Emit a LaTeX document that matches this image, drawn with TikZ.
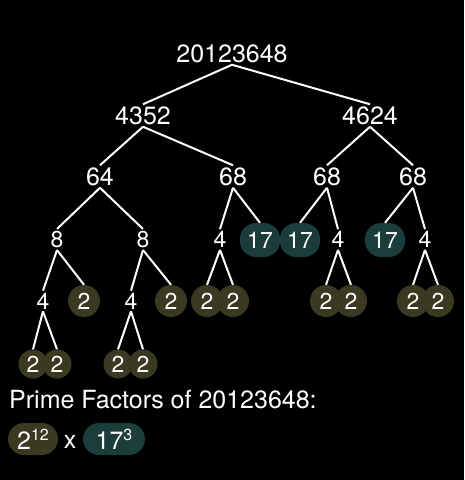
\documentclass[tikz,border=0pt]{standalone}
\usepackage{fontspec}
\setmainfont{TeX Gyre Heros}
\definecolor{twoolive}{RGB}{58,57,33}
\definecolor{seventeenteal}{RGB}{27,62,59}
\newcommand{\treefont}{\fontsize{25}{29}\selectfont}
\newcommand{\leaffont}{\fontsize{23}{27}\selectfont}
\newcommand{\supfont}{\fontsize{16}{18}\selectfont}

\begin{document}
\begin{tikzpicture}[
    x=1pt, y=-1pt,
    every node/.style={text=white, font=\treefont},
    num/.style={inner sep=2pt},
    small/.style={inner sep=2pt, font=\leaffont},
    two/.style={circle, fill=twoolive, inner sep=0pt, minimum size=#1, font=\leaffont},
    two/.default=32pt,
    seventeen/.style={rectangle, rounded corners=16pt, fill=seventeenteal,
        minimum width=40pt, minimum height=34pt, inner sep=0pt, font=\leaffont},
    branch/.style={draw=white, line width=2pt}
]

    % background and margins
    \fill[black] (0,0) rectangle (464,480);

    % ==========================
    % TREE: levels 1 to 3
    % ==========================
    \node[num] (root) at (232,53.5) {20123648};

    \foreach \n/\x/\t in {n4352/143/4352, n4624/370/4624}
        \node[num] (\n) at (\x,115.5) {\t};

    \foreach \n/\x/\t in {n64/100/64, n68a/233/68, n68b/327/68, n68c/413/68}
        \node[num] (\n) at (\x,176.5) {\t};

    % ==========================
    % TREE: level 4
    % ==========================
    \foreach \n/\x/\t in {n8a/57/8, n8b/143/8, n4a/220/4, n4b/338/4, n4c/425/4}
        \node[small] (\n) at (\x,239.5) {\t};
    \foreach \n/\x in {p17a/260, p17b/300, p17c/385}
        \node[seventeen] (\n) at (\x,240) {17};

    % ==========================
    % TREE: levels 5 and 6
    % ==========================
    \foreach \n/\x in {n4d/43, n4e/131}
        \node[small] (\n) at (\x,301) {4};
    \foreach \n/\x in {p2a/84, p2b/171, p2c/207, p2d/233, p2e/326, p2f/351, p2g/413, p2h/438}
        \node[two] (\n) at (\x,301) {2};
    \foreach \n/\x in {p2i/33, p2j/57, p2k/118, p2l/143}
        \node[two=29pt] (\n) at (\x,364) {2};

    % branches, parent south to child north
    \foreach \a/\b in {
        root/n4352, root/n4624,
        n4352/n64, n4352/n68a, n4624/n68b, n4624/n68c,
        n64/n8a, n64/n8b, n68a/n4a, n68a/p17a,
        n68b/p17b, n68b/n4b, n68c/p17c, n68c/n4c,
        n8a/n4d, n8a/p2a, n8b/n4e, n8b/p2b,
        n4a/p2c, n4a/p2d, n4b/p2e, n4b/p2f, n4c/p2g, n4c/p2h,
        n4d/p2i, n4d/p2j, n4e/p2k, n4e/p2l}
    {
        \draw[branch] (\a.south) -- (\b.north);
    }

    % ==========================
    % RESULT
    % ==========================
    \node[inner sep=0pt, anchor=base west] (caption) at (9,408) {Prime Factors of 20123648:};

    \node[two, rounded corners=16pt, rectangle, minimum width=50pt, minimum height=32pt,
        font=\treefont] (power2) at (33,439) {2\raisebox{9pt}{\supfont 12}};
    \node[inner sep=0pt, anchor=base] (times) at (70,448) {x};
    \node[seventeen, minimum width=62pt, minimum height=32pt,
        font=\treefont] (power17) at (114,439) {17\raisebox{9pt}{\supfont 3}};

\end{tikzpicture}
\end{document}
